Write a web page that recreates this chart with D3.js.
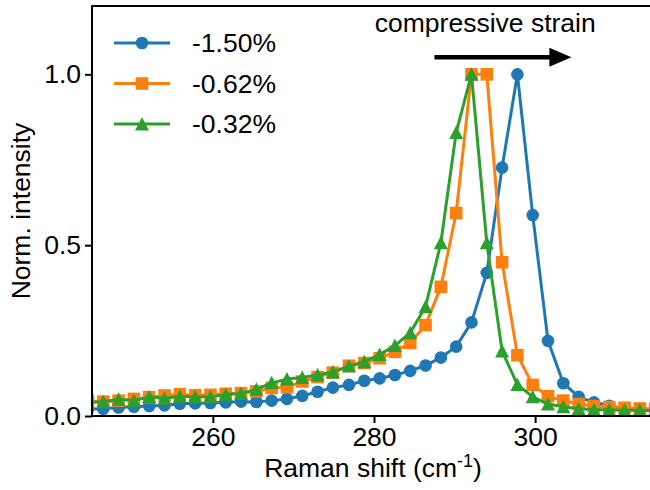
<!DOCTYPE html>
<html>
<head>
<meta charset="utf-8">
<script src="https://cdn.jsdelivr.net/npm/d3@7"></script>
<style>
  body { margin: 0; background: #fff; }
  svg { display: block; font-family: "Liberation Sans", Arial, sans-serif; }
</style>
</head>
<body>
<script>
// Raman shift grid (cm-1) shared by all three spectra
const ramanShift = [244.5, 246.4, 248.3, 250.2, 252.1, 254.0, 255.9, 257.8, 259.7, 261.6,
                    263.5, 265.4, 267.3, 269.2, 271.1, 273.0, 274.9, 276.9, 278.8, 280.7,
                    282.6, 284.5, 286.4, 288.3, 290.2, 292.1, 294.0, 295.9, 297.8, 299.7,
                    301.6, 303.5, 305.4, 307.3, 309.2, 311.1, 313.0, 314.9];

// normalised intensities
const strain150 = [0.020, 0.021, 0.025, 0.027, 0.029, 0.031, 0.036, 0.037, 0.038, 0.040,
                   0.042, 0.041, 0.045, 0.050, 0.059, 0.071, 0.083, 0.091, 0.103, 0.110,
                   0.120, 0.132, 0.148, 0.171, 0.203, 0.274, 0.419, 0.727, 1.000, 0.588,
                   0.220, 0.096, 0.056, 0.040, 0.030, 0.022, 0.018, 0.015];
const strain062 = [0.045, 0.042, 0.045, 0.050, 0.055, 0.060, 0.064, 0.061, 0.062, 0.065,
                   0.067, 0.072, 0.082, 0.084, 0.101, 0.114, 0.127, 0.147, 0.155, 0.169,
                   0.188, 0.214, 0.266, 0.378, 0.594, 1.000, 1.000, 0.450, 0.178, 0.091,
                   0.058, 0.045, 0.035, 0.029, 0.026, 0.024, 0.022, 0.021];
const strain032 = [0.040, 0.042, 0.049, 0.045, 0.056, 0.052, 0.058, 0.056, 0.056, 0.063,
                   0.066, 0.078, 0.097, 0.108, 0.113, 0.120, 0.129, 0.146, 0.159, 0.180,
                   0.206, 0.244, 0.320, 0.507, 0.830, 1.000, 0.507, 0.190, 0.092, 0.056,
                   0.035, 0.027, 0.021, 0.019, 0.018, 0.017, 0.017, 0.016];

const seriesLabels = ["-1.50%", "-0.62%", "-0.32%"];
const seriesColors = ["#1f77b4", "#ff7f0e", "#2ca02c"];
const seriesMarkers = ["circle", "square", "triangle"];
const xTicks = [260, 280, 300];
const yTicks = [0.0, 0.5, 1.0];

const series = [strain150, strain062, strain032].map((vals, i) => ({
    label: seriesLabels[i],
    color: seriesColors[i],
    marker: seriesMarkers[i],
    points: vals.map((v, j) => ({ x: ramanShift[j], y: v }))
}));

// figure layout (right spine sits just outside the window, as in the original)
const W = 650, H = 490;
const plot = { left: 92, right: 660, top: 6, bottom: 416 };
const fontSize = 26.5;

const svg = d3.select("body").append("svg")
    .attr("width", W)
    .attr("height", H);

const x = d3.scaleLinear().domain([245, 315.5]).range([plot.left, plot.right]);
const y = d3.scaleLinear().domain([0, 1.2]).range([plot.bottom, plot.top]);

svg.append("clipPath").attr("id", "clip")
   .append("rect")
   .attr("x", plot.left).attr("y", plot.top)
   .attr("width", plot.right - plot.left).attr("height", plot.bottom - plot.top);

function markerPath(type) {
    if (type === "circle") return d3.symbol(d3.symbolCircle, Math.PI * 6.3 * 6.3)();
    if (type === "square") return "M-6.3,-6.3H6.3V6.3H-6.3Z";
    return "M0,-7L7,6.5H-7Z";   // matplotlib style '^'
}

const line = d3.line().x(d => x(d.x)).y(d => y(d.y));

const plotArea = svg.append("g").attr("clip-path", "url(#clip)");

series.forEach(s => {
    const g = plotArea.append("g");
    g.append("path")
     .datum(s.points)
     .attr("d", line)
     .attr("fill", "none")
     .attr("stroke", s.color)
     .attr("stroke-width", 3)
     .attr("stroke-linejoin", "round");
    g.selectAll(".pt")
     .data(s.points)
     .join("path")
     .attr("class", "pt")
     .attr("transform", d => `translate(${x(d.x)},${y(d.y)})`)
     .attr("d", markerPath(s.marker))
     .attr("fill", s.color);
});

// axes
const xAxis = svg.append("g")
    .attr("transform", `translate(0,${plot.bottom})`)
    .call(d3.axisBottom(x).tickValues(xTicks).tickFormat(d3.format("d"))
          .tickSize(7).tickSizeOuter(0).tickPadding(4));
const yAxis = svg.append("g")
    .attr("transform", `translate(${plot.left},0)`)
    .call(d3.axisLeft(y).tickValues(yTicks).tickFormat(d3.format(".1f"))
          .tickSize(7).tickSizeOuter(0).tickPadding(4));

[xAxis, yAxis].forEach(a => {
    a.select(".domain").remove();
    a.selectAll(".tick line").attr("stroke", "#000").attr("stroke-width", 2);
    a.selectAll(".tick text")
     .attr("fill", "#000")
     .style("font-size", fontSize + "px")
     .style("font-family", "'Liberation Sans', Arial, sans-serif");
});

// spines
svg.append("rect")
   .attr("x", plot.left).attr("y", plot.top)
   .attr("width", plot.right - plot.left).attr("height", plot.bottom - plot.top)
   .attr("fill", "none").attr("stroke", "#000").attr("stroke-width", 2);

// axis labels
const xLabel = svg.append("text")
    .attr("x", 373)
    .attr("y", 477)
    .attr("text-anchor", "middle")
    .style("font-size", fontSize + "px")
    .text("Raman shift (cm");
xLabel.append("tspan").attr("dy", -10).style("font-size", "18px").text("-1");
xLabel.append("tspan").attr("dy", 10).text(")");

svg.append("text")
   .attr("transform", `translate(30,${(plot.top + plot.bottom) / 2}) rotate(-90)`)
   .attr("text-anchor", "middle")
   .style("font-size", fontSize + "px")
   .text("Norm. intensity");

// legend
const legend = svg.append("g");
series.forEach((s, i) => {
    const ly = 43 + i * 40.5;
    legend.append("line")
          .attr("x1", 114).attr("x2", 170)
          .attr("y1", ly).attr("y2", ly)
          .attr("stroke", s.color).attr("stroke-width", 3);
    legend.append("path")
          .attr("transform", `translate(142,${ly})`)
          .attr("d", markerPath(s.marker))
          .attr("fill", s.color);
    legend.append("text")
          .attr("x", 192).attr("y", ly)
          .attr("dy", "0.35em")
          .style("font-size", fontSize + "px")
          .text(s.label);
});

// compressive strain annotation
const arrowFrom = 287.5, arrowTo = 304.5, arrowLevel = 1.05;
svg.append("text")
   .attr("x", x(280.1))
   .attr("y", y(1.125))
   .style("font-size", fontSize + "px")
   .text("compressive strain");
svg.append("line")
   .attr("x1", x(arrowFrom)).attr("x2", x(arrowTo) - 18)
   .attr("y1", y(arrowLevel)).attr("y2", y(arrowLevel))
   .attr("stroke", "#000").attr("stroke-width", 4.5);
svg.append("path")
   .attr("d", `M${x(arrowTo)},${y(arrowLevel)} L${x(arrowTo) - 22},${y(arrowLevel) - 9.5} L${x(arrowTo) - 22},${y(arrowLevel) + 9.5} Z`)
   .attr("fill", "#000");
</script>
</body>
</html>
